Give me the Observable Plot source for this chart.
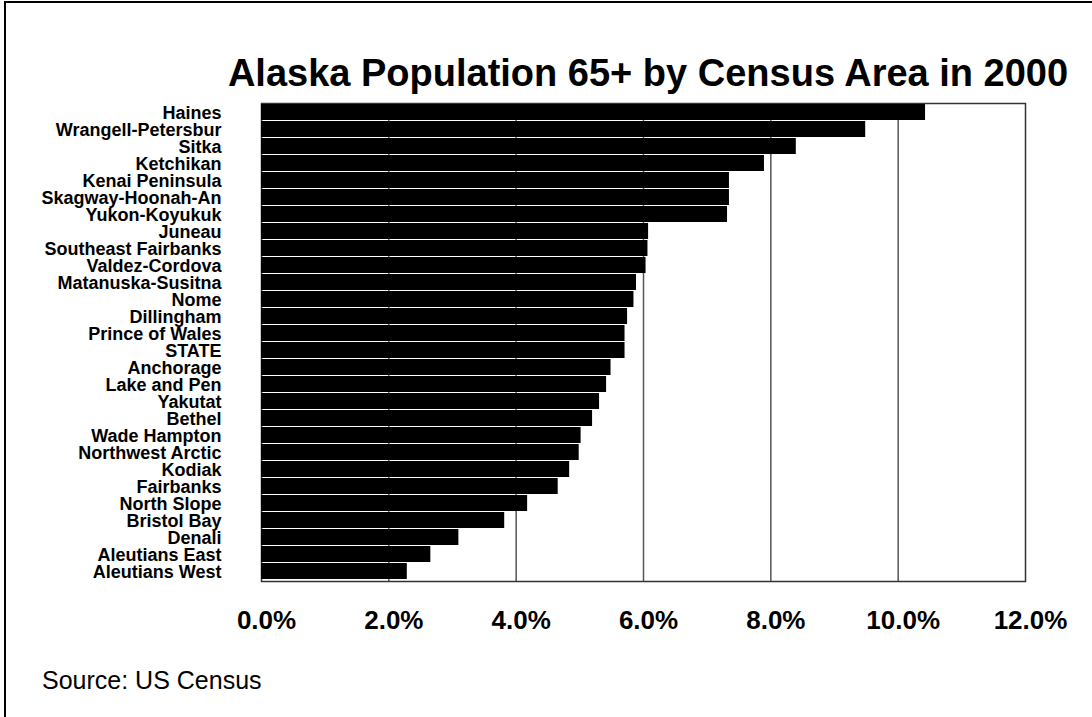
<!DOCTYPE html>
<html>
<head>
<meta charset="utf-8">
<script src="https://cdn.jsdelivr.net/npm/d3@7"></script>
<script src="https://cdn.jsdelivr.net/npm/@observablehq/plot@0.6"></script>
<style>
  html, body { margin: 0; padding: 0; background: #fff; width: 1092px; height: 717px; overflow: hidden; }
  #frame { position: absolute; left: 4px; top: 1px; width: 1200px; height: 800px; border: 2px solid #000; box-sizing: border-box; }
  #chart { position: absolute; left: 0; top: 0; }
  #title { position: absolute; left: 0; top: 54px; width: 1296px; text-align: center; font: bold 38px/1 "Liberation Sans", Arial, sans-serif; color: #000; white-space: nowrap; }
  #source { position: absolute; left: 42px; top: 668px; font: 25px/1 "Liberation Sans", Arial, sans-serif; color: #000; white-space: nowrap; }
</style>
</head>
<body>
<div id="frame"></div>
<div id="chart"></div>
<div id="title">Alaska Population 65+ by Census Area in 2000</div>
<div id="source">Source: US Census</div>
<script>
const categories = ["Haines", "Wrangell-Petersbur", "Sitka", "Ketchikan", "Kenai Peninsula", "Skagway-Hoonah-An", "Yukon-Koyukuk", "Juneau", "Southeast Fairbanks", "Valdez-Cordova", "Matanuska-Susitna", "Nome", "Dillingham", "Prince of Wales", "STATE", "Anchorage", "Lake and Pen", "Yakutat", "Bethel", "Wade Hampton", "Northwest Arctic", "Kodiak", "Fairbanks", "North Slope", "Bristol Bay", "Denali", "Aleutians East", "Aleutians West"];
const values = [10.43, 9.49, 8.40, 7.90, 7.35, 7.35, 7.32, 6.08, 6.07, 6.04, 5.89, 5.85, 5.75, 5.71, 5.71, 5.49, 5.42, 5.31, 5.20, 5.02, 4.99, 4.84, 4.66, 4.18, 3.82, 3.10, 2.66, 2.29];
const xTicks = [0, 2, 4, 6, 8, 10, 12];
const gridTicks = [2, 4, 6, 8, 10];

const data = categories.map((name, i) => ({name, value: values[i]}));

const chart = Plot.plot({
  width: 1092,
  height: 717,
  marginTop: 103,
  marginBottom: 136,
  marginLeft: 261,
  marginRight: 67,
  style: { fontFamily: "'Liberation Sans', Arial, sans-serif", color: "#000", background: "transparent" },
  x: { domain: [0, 12] },
  y: { domain: categories, paddingInner: 0.04, paddingOuter: 0 },
  marks: [
    Plot.ruleX(gridTicks, { stroke: "#555", strokeWidth: 1.5 }),
    Plot.frame({ stroke: "#333", strokeWidth: 1.5 }),
    Plot.barX(data, { x: "value", y: "name", fill: "#000" }),
    Plot.axisX({ ticks: xTicks, tickSize: 0, tickPadding: 29, fontSize: 26, fontWeight: "bold", dx: 5, tickFormat: d => d.toFixed(1) + "%", label: null }),
    Plot.axisY({ tickSize: 0, tickPadding: 40, fontSize: 18, fontWeight: "bold", label: null, dy: 1 })
  ]
});
document.getElementById("chart").appendChild(chart);
</script>
</body>
</html>
